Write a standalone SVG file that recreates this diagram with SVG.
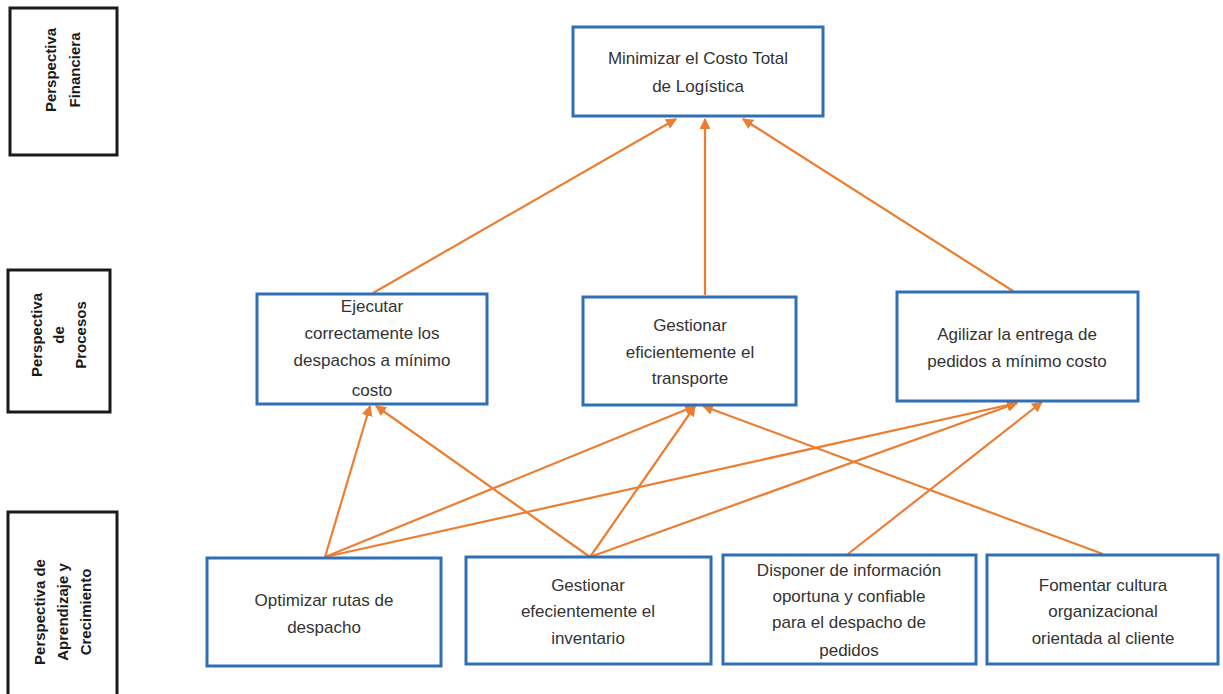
<svg xmlns="http://www.w3.org/2000/svg" width="1223" height="694" viewBox="0 0 1223 694">
<defs>
<style>
.box{fill:#ffffff;stroke:#2e6fb7;stroke-width:3}
.lbl{fill:#ffffff;stroke:#1a1a1a;stroke-width:3}
.t{font-family:"Liberation Sans",Arial,sans-serif;font-size:17px;fill:#333333;text-anchor:middle}
.lt{font-family:"Liberation Sans",Arial,sans-serif;font-size:15px;font-weight:bold;fill:#1a1a1a;text-anchor:middle}
.c{stroke:#ed7d31;stroke-width:2.2;fill:none;marker-end:url(#ah)}
</style>
<marker id="ah" viewBox="0 0 10 10" refX="9" refY="5" markerWidth="5" markerHeight="5" orient="auto" markerUnits="strokeWidth">
<path d="M0,0 L10,5 L0,10 z" fill="#ed7d31"/>
</marker>
</defs>
<rect width="1223" height="694" fill="#ffffff"/>

<g id="lbl-financiera">
<rect class="lbl" x="10" y="8" width="107" height="147"/>
<text class="lt" transform="translate(63,70) rotate(-90)"><tspan x="0" y="-7">Perspectiva</tspan><tspan x="0" y="17">Financiera</tspan></text>
</g>
<g id="lbl-procesos">
<rect class="lbl" x="8" y="270" width="102" height="142"/>
<text class="lt" transform="translate(59,335) rotate(-90)"><tspan x="0" y="-17">Perspectiva</tspan><tspan x="0" y="5">de</tspan><tspan x="0" y="27">Procesos</tspan></text>
</g>
<g id="lbl-aprendizaje">
<rect class="lbl" x="8" y="512" width="109" height="196"/>
<text class="lt" transform="translate(63,612) rotate(-90)"><tspan x="0" y="-18">Perspectiva  de</tspan><tspan x="0" y="5">Aprendizaje y</tspan><tspan x="0" y="28">Crecimiento</tspan></text>
</g>

<g id="connectors">
<line class="c" x1="373" y1="293" x2="676" y2="119"/>
<line class="c" x1="705" y1="295" x2="705" y2="119"/>
<line class="c" x1="1013" y1="291" x2="743" y2="119"/>
<line class="c" x1="325" y1="557" x2="370" y2="406"/>
<line class="c" x1="325" y1="557" x2="695" y2="406"/>
<line class="c" x1="325" y1="557" x2="1017" y2="403"/>
<line class="c" x1="590" y1="557" x2="376" y2="406"/>
<line class="c" x1="590" y1="557" x2="695" y2="406"/>
<line class="c" x1="590" y1="557" x2="1017" y2="403"/>
<line class="c" x1="848" y1="554" x2="1042" y2="402"/>
<line class="c" x1="1103" y1="554" x2="703" y2="406"/>
</g>

<g id="n-minimizar">
<rect class="box" x="573" y="27" width="250" height="89"/>
<text class="t"><tspan x="698" y="64">Minimizar el Costo Total</tspan><tspan x="698" y="92">de Logística</tspan></text>
</g>
<g id="n-ejecutar">
<rect class="box" x="257" y="294" width="230" height="110"/>
<text class="t"><tspan x="372" y="312">Ejecutar</tspan><tspan x="372" y="339">correctamente los</tspan><tspan x="372" y="366">despachos a mínimo</tspan><tspan x="372" y="396">costo</tspan></text>
</g>
<g id="n-transporte">
<rect class="box" x="583" y="297" width="213" height="108"/>
<text class="t"><tspan x="690" y="331">Gestionar</tspan><tspan x="690" y="358">eficientemente el</tspan><tspan x="690" y="384">transporte</tspan></text>
</g>
<g id="n-agilizar">
<rect class="box" x="897" y="292" width="241" height="109"/>
<text class="t"><tspan x="1017" y="340">Agilizar la entrega de</tspan><tspan x="1017" y="367">pedidos a mínimo costo</tspan></text>
</g>
<g id="n-optimizar">
<rect class="box" x="207" y="558" width="234" height="108"/>
<text class="t"><tspan x="324" y="606">Optimizar rutas de</tspan><tspan x="324" y="633">despacho</tspan></text>
</g>
<g id="n-inventario">
<rect class="box" x="466" y="557" width="245" height="107"/>
<text class="t"><tspan x="588" y="591">Gestionar</tspan><tspan x="588" y="617">efecientemente el</tspan><tspan x="588" y="644">inventario</tspan></text>
</g>
<g id="n-disponer">
<rect class="box" x="723" y="555" width="253" height="109"/>
<text class="t"><tspan x="849" y="576">Disponer de información</tspan><tspan x="849" y="602">oportuna y confiable</tspan><tspan x="849" y="628">para el despacho de</tspan><tspan x="849" y="656">pedidos</tspan></text>
</g>
<g id="n-fomentar">
<rect class="box" x="987" y="555" width="231" height="109"/>
<text class="t"><tspan x="1103" y="591">Fomentar cultura</tspan><tspan x="1103" y="617">organizacional</tspan><tspan x="1103" y="644">orientada al cliente</tspan></text>
</g>
</svg>
